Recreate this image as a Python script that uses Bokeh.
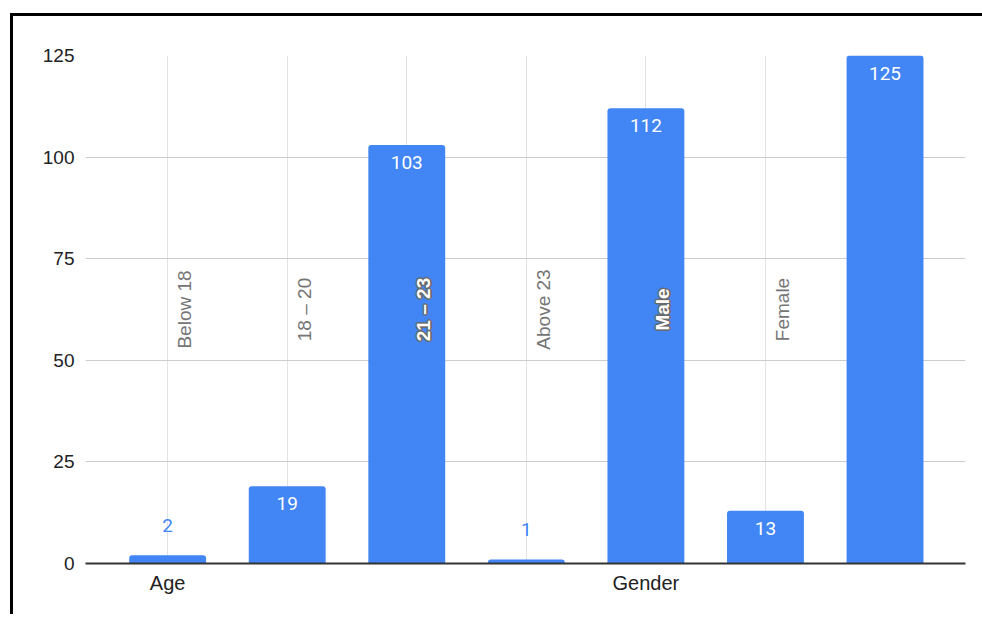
import math
from bokeh.plotting import figure
from bokeh.models import Range1d, FixedTicker, ColumnDataSource
from bokeh.core.properties import value
from bokeh.embed import file_html
from bokeh.resources import INLINE

# ---- data ----
categories = ["Below 18", "18 – 20", "21 – 23", "Above 23", "Male", "Female", ""]
counts = [2, 19, 103, 1, 112, 13, 125]
group_ticks = [0, 4]
group_labels = ["Age", "Gender"]
y_ticks = [0, 25, 50, 75, 100, 125]

BLUE = "#4285F4"
xs = list(range(len(counts)))

p = figure(width=972, height=601, output_backend="svg", toolbar_location=None,
           x_range=Range1d(-0.687, 6.673), y_range=Range1d(0, 125),
           min_border_left=72, min_border_top=39, min_border_right=20, min_border_bottom=54,
           styles={"margin-left": "10px", "margin-top": "13px",
                   "border-left": "3px solid black", "border-top": "3px solid black"})
p.outline_line_color = None
p.background_fill_color = "white"
p.border_fill_color = "white"

# grids
p.ygrid.ticker = FixedTicker(ticks=y_ticks)
p.ygrid.grid_line_color = "#cccccc"
p.ygrid.grid_line_width = 1
p.xgrid.ticker = FixedTicker(ticks=xs)
p.xgrid.grid_line_color = "#e3e3e3"
p.xgrid.grid_line_width = 1

# bars
src = ColumnDataSource(dict(x=xs, top=counts))
p.vbar(x="x", top="top", width=0.643, source=src, fill_color=BLUE, line_color=None,
       border_radius=(3, 3, 0, 0))

# value labels
inside = [i for i, v in enumerate(counts) if v >= 10]
outside = [i for i, v in enumerate(counts) if v < 10]
p.text(x=[xs[i] for i in inside], y=[counts[i] for i in inside],
       text=[str(counts[i]) for i in inside], y_offset=17.5,
       text_align="center", text_baseline="middle", text_color="white",
       text_font=value("Roboto"), text_font_size="19px")
p.text(x=[xs[i] for i in outside], y=[counts[i] for i in outside],
       text=[str(counts[i]) for i in outside], y_offset=-30,
       text_align="center", text_baseline="middle", text_color=BLUE,
       text_font=value("Roboto"), text_font_size="19px")

# rotated category labels
mid = y_ticks[-1] / 2
plain = [i for i, c in enumerate(categories) if c and counts[i] < 70]
onbar = [i for i, c in enumerate(categories) if c and counts[i] >= 70]
p.text(x=[xs[i] for i in plain], y=[mid] * len(plain), text=[categories[i] for i in plain],
       angle=math.pi / 2, x_offset=17, text_align="center", text_baseline="middle",
       text_color="#757575", text_font=value("Liberation Sans"), text_font_size="19px")
for dx, dy in [(-1.5, 0), (1.5, 0), (0, -1.5), (0, 1.5), (-1, -1), (1, 1), (-1, 1), (1, -1)]:
    p.text(x=[xs[i] for i in onbar], y=[mid] * len(onbar), text=[categories[i] for i in onbar],
           angle=math.pi / 2, x_offset=17 + dx, y_offset=dy, text_align="center",
           text_baseline="middle", text_color="#6b6b6b",
           text_font=value("Liberation Sans"), text_font_size="19px", text_font_style="bold")
p.text(x=[xs[i] for i in onbar], y=[mid] * len(onbar), text=[categories[i] for i in onbar],
       angle=math.pi / 2, x_offset=17, text_align="center", text_baseline="middle",
       text_color="white", text_font=value("Liberation Sans"), text_font_size="19px",
       text_font_style="bold")

# axes
p.xaxis.ticker = FixedTicker(ticks=group_ticks)
p.xaxis.major_label_overrides = {t: l for t, l in zip(group_ticks, group_labels)}
p.xaxis.axis_line_color = "#333333"
p.xaxis.axis_line_width = 2
p.xaxis.major_tick_line_color = None
p.xaxis.minor_tick_line_color = None
p.xaxis.major_label_standoff = 2
p.xaxis.major_label_text_font = "Liberation Sans"
p.xaxis.major_label_text_font_size = "20px"
p.xaxis.major_label_text_color = "#222222"

p.yaxis.ticker = FixedTicker(ticks=y_ticks)
p.yaxis.axis_line_color = None
p.yaxis.major_tick_line_color = None
p.yaxis.minor_tick_line_color = None
p.yaxis.major_label_standoff = 5
p.yaxis.major_label_text_font = "Liberation Sans"
p.yaxis.major_label_text_font_size = "19px"
p.yaxis.major_label_text_color = "#222222"

open("out.html", "w").write(file_html(p, INLINE))
